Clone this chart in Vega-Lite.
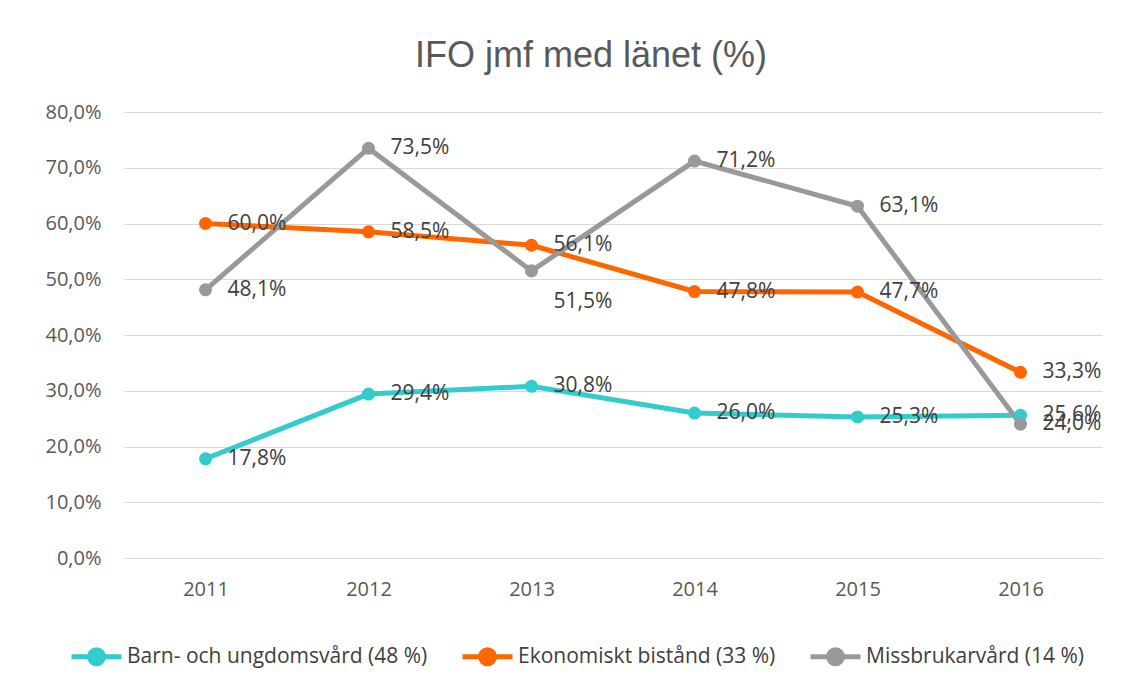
{
  "$schema": "https://vega.github.io/schema/vega-lite/v6.json",
  "width": 978,
  "height": 446,
  "autosize": {"type": "none"},
  "padding": {"left": 124, "top": 112, "right": 32, "bottom": 129},
  "background": "white",
  "title": {
    "text": "IFO jmf med länet (%)",
    "font": "Liberation Sans",
    "fontSize": 36,
    "fontWeight": "normal",
    "color": "#595959",
    "anchor": "middle",
    "dx": -22,
    "offset": 27
  },
  "data": {
    "values": [
      {"year": "2011", "series": "Barn- och ungdomsvård (48 %)", "value": 0.178},
      {"year": "2012", "series": "Barn- och ungdomsvård (48 %)", "value": 0.294},
      {"year": "2013", "series": "Barn- och ungdomsvård (48 %)", "value": 0.308},
      {"year": "2014", "series": "Barn- och ungdomsvård (48 %)", "value": 0.260},
      {"year": "2015", "series": "Barn- och ungdomsvård (48 %)", "value": 0.253},
      {"year": "2016", "series": "Barn- och ungdomsvård (48 %)", "value": 0.256},
      {"year": "2011", "series": "Ekonomiskt bistånd (33 %)", "value": 0.600},
      {"year": "2012", "series": "Ekonomiskt bistånd (33 %)", "value": 0.585},
      {"year": "2013", "series": "Ekonomiskt bistånd (33 %)", "value": 0.561},
      {"year": "2014", "series": "Ekonomiskt bistånd (33 %)", "value": 0.478},
      {"year": "2015", "series": "Ekonomiskt bistånd (33 %)", "value": 0.477},
      {"year": "2016", "series": "Ekonomiskt bistånd (33 %)", "value": 0.333},
      {"year": "2011", "series": "Missbrukarvård (14 %)", "value": 0.481},
      {"year": "2012", "series": "Missbrukarvård (14 %)", "value": 0.735},
      {"year": "2013", "series": "Missbrukarvård (14 %)", "value": 0.515},
      {"year": "2014", "series": "Missbrukarvård (14 %)", "value": 0.712},
      {"year": "2015", "series": "Missbrukarvård (14 %)", "value": 0.631},
      {"year": "2016", "series": "Missbrukarvård (14 %)", "value": 0.240}
    ]
  },
  "encoding": {
    "x": {
      "field": "year",
      "type": "ordinal",
      "scale": {"type": "point", "padding": 0.5},
      "axis": {
        "title": null,
        "labelAngle": 0,
        "ticks": false,
        "tickSize": 0,
        "domain": false,
        "labelPadding": 31,
        "labelBaseline": "middle",
        "labelFont": "Open Sans",
        "labelFontSize": 20,
        "labelColor": "#595959"
      }
    },
    "y": {
      "field": "value",
      "type": "quantitative",
      "scale": {"domain": [0, 0.8], "nice": false},
      "axis": {
        "title": null,
        "values": [0, 0.1, 0.2, 0.3, 0.4, 0.5, 0.6, 0.7, 0.8],
        "format": ".1%",
        "ticks": false,
        "tickSize": 0,
        "domain": false,
        "labelPadding": 23,
        "labelFont": "Open Sans",
        "labelFontSize": 20,
        "labelColor": "#595959",
        "gridColor": "#d9d9d9",
        "gridWidth": 1.2
      }
    }
  },
  "layer": [
    {
      "mark": {"type": "line", "strokeWidth": 5, "point": {"filled": true, "size": 170, "opacity": 1}},
      "encoding": {
        "color": {
          "field": "series",
          "type": "nominal",
          "scale": {
            "domain": ["Barn- och ungdomsvård (48 %)", "Ekonomiskt bistånd (33 %)", "Missbrukarvård (14 %)"],
            "range": ["#33CCCC", "#FF6600", "#999999"]
          },
          "legend": {
            "orient": "none",
            "legendX": -40,
            "legendY": 532,
            "direction": "horizontal",
            "title": null,
            "padding": 0,
            "symbolType": "M -2.5 0 L 2.5 0 M -0.7 0 A 0.7 0.7 0 1 1 0.7 0 A 0.7 0.7 0 1 1 -0.7 0 Z",
            "symbolSize": 400,
            "symbolStrokeWidth": 5,
            "symbolOpacity": 1,
            "labelOffset": 18,
            "columnPadding": 24,
            "labelFont": "Open Sans",
            "labelFontSize": 21,
            "labelColor": "#404040",
            "labelLimit": 500,
            "encode": {
              "symbols": {
                "update": {
                  "fill": {"scale": "color", "field": "value"},
                  "stroke": {"scale": "color", "field": "value"}
                }
              }
            }
          }
        }
      }
    },
    {
      "transform": [{"filter": "!(datum.series === 'Missbrukarvård (14 %)' && datum.year === '2013')"}],
      "mark": {"type": "text", "align": "left", "baseline": "middle", "dx": 22, "font": "Open Sans", "fontSize": 21, "color": "#404040"},
      "encoding": {"text": {"field": "value", "type": "quantitative", "format": ".1%"}}
    },
    {
      "transform": [{"filter": "datum.series === 'Missbrukarvård (14 %)' && datum.year === '2013'"}],
      "mark": {"type": "text", "align": "left", "baseline": "middle", "dx": 22, "dy": 31, "font": "Open Sans", "fontSize": 21, "color": "#404040"},
      "encoding": {"text": {"field": "value", "type": "quantitative", "format": ".1%"}}
    }
  ],
  "config": {
    "locale": {
      "number": {"decimal": ",", "thousands": " ", "grouping": [3], "currency": ["", " kr"]}
    },
    "view": {"stroke": null}
  }
}
